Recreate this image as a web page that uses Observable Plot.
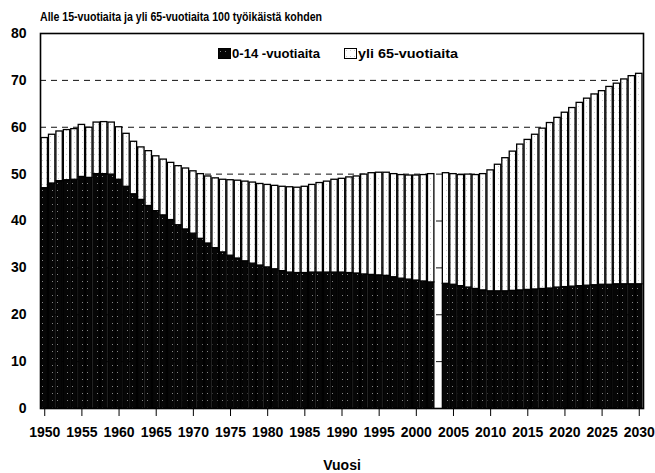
<!DOCTYPE html>
<html><head><meta charset="utf-8">
<script src="https://cdn.jsdelivr.net/npm/d3@7"></script>
<script src="https://cdn.jsdelivr.net/npm/@observablehq/plot@0.6"></script>
<style>
body{margin:0;background:#fff;}
#wrap{position:relative;width:655px;height:473px;overflow:hidden;background:#fff;}
#title{height:26px;box-sizing:border-box;padding:10px 0 0 40px;font:bold 13px 'Liberation Sans',Arial,sans-serif;line-height:1;color:#000;white-space:nowrap;}
#title span{display:inline-block;transform-origin:left center;}
#legend{position:absolute;top:46px;left:218px;font:bold 13px 'Liberation Sans',Arial,sans-serif;display:flex;align-items:center;color:#000;white-space:nowrap;}
#legend svg{margin-right:1px;flex:none;}
#legend .item{display:flex;align-items:center;}
#legend .txt{display:inline-block;transform-origin:left center;}
</style>
</head><body>
<svg width="0" height="0" style="position:absolute">
<defs>
<pattern id="pDark" width="5" height="7" patternUnits="userSpaceOnUse">
<rect width="5" height="7" fill="#060606"/>
<rect x="2" y="3" width="1" height="1" fill="#fff" opacity="0.5"/>
</pattern>
<pattern id="pLight" width="4" height="6" patternUnits="userSpaceOnUse">
<rect width="4" height="6" fill="#fff"/>
<rect x="2" y="2" width="1" height="1" fill="#000" opacity="0.2"/>
</pattern>
</defs>
</svg>
<div id="wrap">
<div id="title"><span id="titletext">Alle 15-vuotiaita ja yli 65-vuotiaita 100 työikäistä kohden</span></div>
<div id="legend"></div>
</div>
<script>
const vuodet = [1950,1951,1952,1953,1954,1955,1956,1957,1958,1959,
1960,1961,1962,1963,1964,1965,1966,1967,1968,1969,
1970,1971,1972,1973,1974,1975,1976,1977,1978,1979,
1980,1981,1982,1983,1984,1985,1986,1987,1988,1989,
1990,1991,1992,1993,1994,1995,1996,1997,1998,1999,
2000,2001,2002,
2004,2005,2006,2007,2008,2009,
2010,2011,2012,2013,2014,2015,2016,2017,2018,2019,
2020,2021,2022,2023,2024,2025,2026,2027,2028,2029,2030];

const alle15 = [47.0,48.0,48.5,48.7,48.8,49.4,49.2,50.0,50.0,49.9,
48.8,47.3,45.7,44.5,43.2,42.1,41.2,40.2,39.1,38.2,
37.3,36.2,35.2,34.2,33.3,32.6,32.0,31.4,30.9,30.5,
30.1,29.7,29.3,29.0,28.9,28.9,29.0,29.0,29.0,29.0,
29.0,28.9,28.8,28.6,28.5,28.4,28.3,28.0,27.7,27.5,
27.3,27.1,26.9,
26.6,26.4,26.1,25.8,25.5,25.2,
25.0,25.0,25.0,25.1,25.2,25.3,25.4,25.5,25.6,25.8,
25.9,26.0,26.1,26.2,26.3,26.4,26.4,26.5,26.5,26.5,26.5];

const yli65 = [10.7,10.4,10.6,10.7,10.8,11.1,10.7,11.0,11.1,11.1,
11.2,11.3,11.2,11.2,11.7,11.7,11.9,12.2,12.6,13.0,
13.3,13.8,14.3,14.9,15.5,16.1,16.6,17.0,17.3,17.4,
17.6,17.8,18.0,18.2,18.2,18.4,18.7,19.1,19.4,19.8,
20.0,20.4,20.7,21.3,21.7,21.9,22.0,22.0,22.1,22.2,
22.4,22.7,23.1,
23.6,23.6,23.7,24.1,24.3,24.8,
25.8,27.0,28.4,29.7,31.1,32.0,33.0,34.2,35.3,36.2,
37.2,38.1,39.1,39.9,40.7,41.3,42.2,42.8,43.7,44.4,44.9];

const sarjat = ["0-14 -vuotiaita", "yli 65-vuotiaita"];
const xTicks = [1950,1955,1960,1965,1970,1975,1980,1985,1990,1995,2000,2005,2010,2015,2020,2025,2030];
const yTicks = [0,10,20,30,40,50,60,70,80];
const xLabel = "Vuosi";

const kaikkiVuodet = d3.range(1950, 2031);
const rows = vuodet.flatMap((v, i) => [
  {vuosi: v, sarja: sarjat[0], arvo: alle15[i]},
  {vuosi: v, sarja: sarjat[1], arvo: yli65[i]}
]);

const FONT = "'Liberation Sans',Arial,sans-serif";

const chart = Plot.plot({
  width: 655, height: 447,
  marginTop: 7, marginLeft: 40, marginRight: 12, marginBottom: 65,
  style: {fontFamily: FONT, fontWeight: "bold", color: "#000", background: "#fff", overflow: "visible"},
  x: {type: "band", domain: kaikkiVuodet, padding: 0.14},
  y: {domain: [0, 80]},
  color: {domain: sarjat, range: ["url(#pDark)", "url(#pLight)"]},
  marks: [
    Plot.ruleY(yTicks.filter(d => d > 0 && d < 80), {stroke: "#111", strokeDasharray: "6,5", strokeWidth: 1}),
    Plot.barY(rows, {x: "vuosi", y: "arvo", fill: "sarja", stroke: "#000", strokeWidth: 1.3}),
    Plot.frame({stroke: "#000", strokeWidth: 1.6}),
    Plot.axisY({ticks: yTicks, tickSize: 0, tickPadding: 14, fontSize: 14, fontWeight: "bold", label: null}),
    Plot.axisX({ticks: xTicks, tickFormat: d => `${d}`, tickSize: 8, tickPadding: 11, fontSize: 14, fontWeight: "bold", label: xLabel, labelAnchor: "center", labelOffset: 61})
  ]
});
document.getElementById("wrap").appendChild(chart);

function fitWidth(el, target) {
  const w = el.getBoundingClientRect().width;
  if (w > 0) el.style.transform = `scaleX(${target / w})`;
}

const legend = document.getElementById("legend");
const fills = ["url(#pDark)", "url(#pLight)"];
const legendWidths = [88, 100];
const legendGaps = [24, 0];
sarjat.forEach((s, i) => {
  const item = document.createElement("span");
  item.className = "item";
  item.innerHTML = `<svg width="13" height="11"><rect x="0.5" y="0.5" width="12" height="10" fill="${fills[i]}" stroke="#000"/></svg><span class="txt">${s}</span>`;
  legend.appendChild(item);
  const txt = item.querySelector(".txt");
  fitWidth(txt, legendWidths[i]);
  item.style.width = (13 + 1 + legendWidths[i] + legendGaps[i]) + "px";
});
fitWidth(document.getElementById("titletext"), 282);
</script>
</body></html>
